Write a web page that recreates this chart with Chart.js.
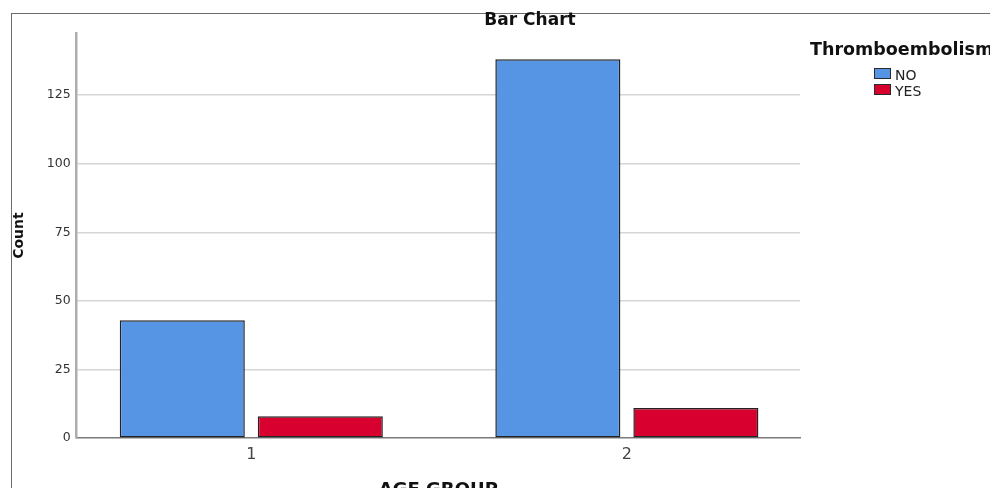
<!DOCTYPE html>
<html>
<head>
<meta charset="utf-8">
<script src="https://cdn.jsdelivr.net/npm/chart.js@4/dist/chart.umd.min.js"></script>
<style>
  html, body { margin: 0; padding: 0; background: #ffffff; overflow: hidden; }
  #wrap { position: relative; width: 990px; height: 488px; overflow: hidden; background: #ffffff; }
  #frame { position: absolute; left: 11px; top: 13px; width: 2000px; height: 2000px;
           border-top: 1.5px solid #6b6b6b; border-left: 1.5px solid #6b6b6b; }
  #chart { position: absolute; left: 0; top: 0; }
  #legend { position: absolute; left: 810px; top: 41px; font-family: "DejaVu Sans", sans-serif; color: #111; }
  #legend .ltitle { font-weight: bold; font-size: 17.5px; line-height: 1; white-space: nowrap; }
  #legend .row { position: absolute; left: 64px; height: 16px; line-height: 16px; font-size: 14px;
                 white-space: nowrap; color: #222; }
  #legend .box { display: inline-block; box-sizing: border-box; width: 17px; height: 11px;
                 border: 1px solid #2b2b2b; vertical-align: top; margin-top: 1px; margin-right: 4px; }
</style>
</head>
<body>
<div id="wrap">
  <div id="frame"></div>
  <canvas id="chart" width="1053" height="510"></canvas>
  <div id="legend"></div>
</div>
<script>
// ---- data ----
const categories = [1, 2];                 // AGE GROUP
const seriesNames = ['NO', 'YES'];         // Thromboembolism
const noCounts  = [43, 138];
const yesCounts = [8, 11];
const yTickStep = 25;
const legendTitle = 'Thromboembolism';
const chartTitle = 'Bar Chart';
const xTitle = 'AGE GROUP';
const yTitle = 'Count';

const colors = ['#5595e3', '#d8002e'];

const datasets = [noCounts, yesCounts].map((vals, i) => ({
  label: seriesNames[i],
  data: categories.map((c, j) => ({ x: c, y: vals[j] })),
  backgroundColor: colors[i],
  borderColor: '#222222',
  borderWidth: 1.5,
  borderSkipped: false,
  categoryPercentage: 0.735,
  barPercentage: 0.906
}));

const chart = new Chart(document.getElementById('chart'), {
  type: 'bar',
  data: { datasets },
  options: {
    responsive: false,
    animation: false,
    devicePixelRatio: 1,
    layout: { padding: { left: 7, right: 0, top: 0, bottom: 5 } },
    plugins: {
      legend: { display: false },
      tooltip: { enabled: false },
      title: {
        display: true, text: chartTitle, color: '#111',
        font: { family: 'DejaVu Sans', size: 17, weight: 'bold' },
        padding: { top: 10, bottom: 2.6 }
      }
    },
    scales: {
      x: {
        type: 'linear', offset: false,
        min: 0.535, max: 2.461,
        grid: { display: false, drawTicks: false },
        border: { display: true, color: '#7a7a7a', width: 1.5 },
        ticks: {
          stepSize: 1, includeBounds: false, padding: 7, color: '#444',
          font: { family: 'DejaVu Sans', size: 16 },
          callback: v => categories.includes(v) ? String(v) : ''
        },
        title: {
          display: true, text: xTitle, color: '#111',
          font: { family: 'DejaVu Sans', size: 18, weight: 'bold' },
          padding: { top: 8, bottom: 4 }
        }
      },
      y: {
        min: 0, max: 147.6,
        grid: {
          drawTicks: false, lineWidth: 1.5,
          color: c => (c.tick && c.tick.value === 0) ? 'rgba(0,0,0,0)' : '#d6d6d6'
        },
        border: { display: true, color: '#adadad', width: 2.5 },
        ticks: {
          stepSize: yTickStep, includeBounds: false, padding: 6, color: '#333',
          font: { family: 'DejaVu Sans', size: 12.5 }
        },
        title: {
          display: true, text: yTitle, color: '#111',
          font: { family: 'DejaVu Sans', size: 14, weight: 'bold' },
          padding: { top: 4, bottom: 13 }
        }
      },
      // empty space reserved on the right for the legend
      legendSpace: {
        type: 'linear', position: 'right', display: true,
        grid: { display: false, drawTicks: false },
        border: { display: false },
        ticks: { display: false },
        afterFit: s => { s.width = 253; }
      }
    }
  }
});

// HTML legend built from the chart's datasets
const legend = document.getElementById('legend');
const t = document.createElement('div');
t.className = 'ltitle';
t.textContent = legendTitle;
legend.appendChild(t);
chart.data.datasets.forEach((ds, i) => {
  const row = document.createElement('div');
  row.className = 'row';
  row.style.top = (26 + i * 16) + 'px';
  const box = document.createElement('span');
  box.className = 'box';
  box.style.background = ds.backgroundColor;
  row.appendChild(box);
  row.appendChild(document.createTextNode(ds.label));
  legend.appendChild(row);
});
</script>
</body>
</html>
